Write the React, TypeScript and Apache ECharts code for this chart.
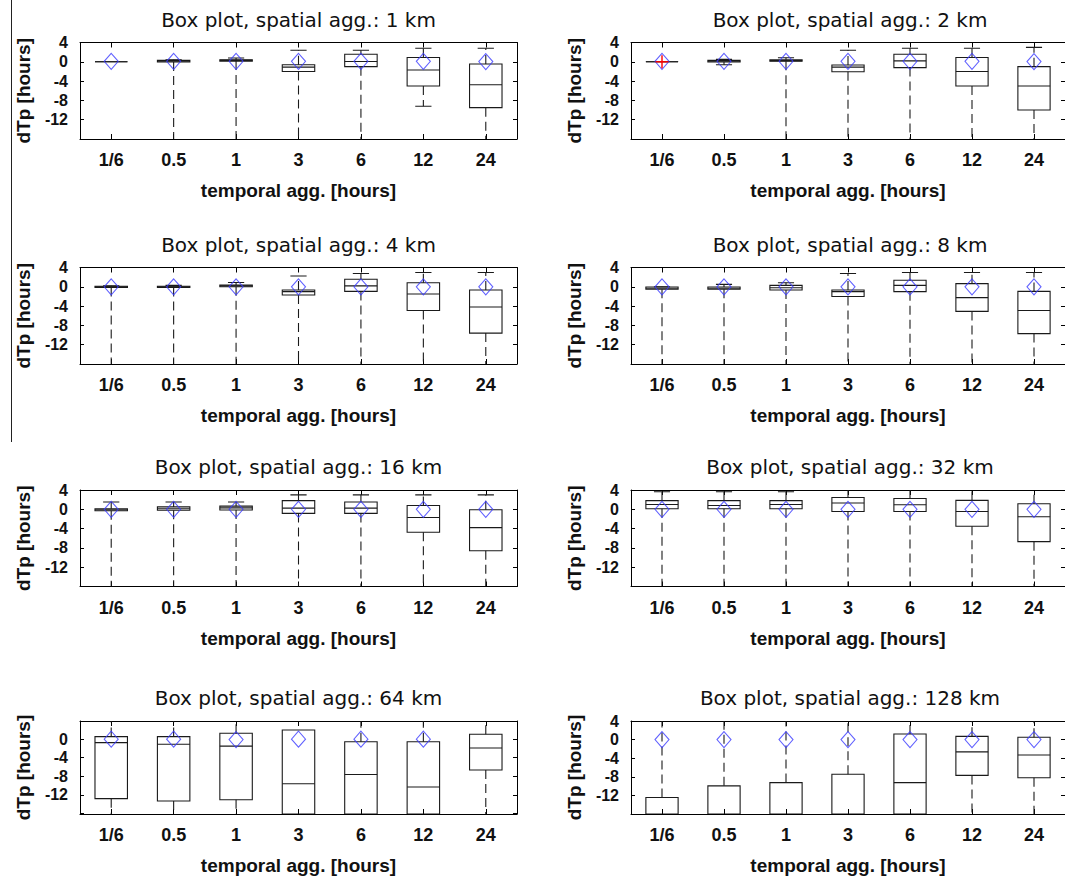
import { useEffect, useRef } from 'react';
import * as echarts from 'echarts';

// ---------- data ----------
const categories = ['1/6', '0.5', '1', '3', '6', '12', '24'];
const spatialAgg = ['1 km', '2 km', '4 km', '8 km', '16 km', '32 km', '64 km', '128 km'];
const titlePrefix = 'Box plot, spatial agg.: ';
const xAxisName = 'temporal agg. [hours]';
const yAxisName = 'dTp [hours]';
const yTickValues = [4, 0, -4, -8, -12, -16];
const yTickLabels = [4, 0, -4, -8, -12];
const yMinByPanel = [-16, -16, -16, -16, -16, -16, -16.1, -16];
const yMaxByPanel = [4, 4, 4, 4, 4, 4, 3.9, 4];

// each box: [whiskerLow, q1, median, q3, whiskerHigh]
const boxes1km = [
  [0, 0, 0, 0, 0],
  [-20, -0.05, 0.1, 0.3, 0.4],
  [-20, 0.15, 0.3, 0.4, 0.8],
  [-20, -2.0, -1.1, -0.6, 2.4],
  [-20, -1.0, 0.05, 1.55, 2.4],
  [-9.2, -5.0, -1.7, 0.9, 2.8],
  [-20, -9.5, -4.75, -0.45, 2.8],
];
const boxes2km = [
  [0, 0, 0, 0, 0],
  [-0.6, -0.05, 0.1, 0.3, 0.5],
  [-20, 0.1, 0.25, 0.4, 0.85],
  [-20, -2.05, -1.1, -0.65, 2.4],
  [-20, -1.2, 0.2, 1.55, 2.8],
  [-20, -5.0, -2.0, 0.9, 2.8],
  [-20, -10.0, -5.0, -1.0, 3.0],
];
const boxes4km = [
  [-20, -0.15, 0, 0.1, 0.2],
  [-20, -0.15, 0, 0.1, 0.3],
  [-20, 0, 0.2, 0.35, 0.9],
  [-20, -1.7, -1.0, -0.65, 2.25],
  [-20, -0.95, 0.2, 1.55, 2.75],
  [-20, -4.9, -1.5, 0.85, 2.95],
  [-20, -9.6, -4.2, -0.65, 2.95],
];
const boxes8km = [
  [-20, -0.5, -0.3, -0.05, 0],
  [-20, -0.5, -0.3, -0.05, 0.5],
  [-20, -0.65, -0.2, 0.3, 0.85],
  [-20, -2.0, -1.0, -0.65, 2.75],
  [-20, -1.0, 0.3, 1.35, 2.95],
  [-20, -5.1, -2.25, 0.65, 2.95],
  [-20, -9.7, -4.9, -0.95, 2.95],
];
const boxes16km = [
  [-20, -0.3, -0.1, 0.1, 1.5],
  [-20, -0.2, 0.1, 0.5, 1.5],
  [-20, -0.15, 0.3, 0.65, 1.5],
  [-20, -0.85, 0.25, 1.8, 3.0],
  [-20, -0.85, 0.25, 1.5, 3.0],
  [-20, -4.75, -1.7, 0.8, 3.0],
  [-20, -8.6, -3.8, -0.1, 3.0],
];
const boxes32km = [
  [-20, 0.1, 1.0, 1.8, 3.65],
  [-20, 0.1, 0.8, 1.8, 3.65],
  [-20, 0.1, 1.0, 1.8, 3.65],
  [-20, -0.45, 1.3, 2.45, 6],
  [-20, -0.45, 0.95, 2.25, 6],
  [-20, -3.5, -0.45, 1.85, 6],
  [-20, -6.7, -1.55, 1.15, 6],
];
const boxes64km = [
  [-20, -12.8, -0.75, 0.55, 6],
  [-20, -13.3, -1.1, 0.55, 6],
  [-20, -13.05, -1.5, 1.25, 6],
  [-20, -18, -9.6, 1.95, 1.95],
  [-20, -18, -7.6, -0.55, 6],
  [-20, -18, -10.3, -0.55, 6],
  [-20, -6.65, -1.9, 1.05, 6],
];
const boxes128km = [
  [-24, -20, -17, -12.45, 6],
  [-24, -20, -17, -9.95, 6],
  [-24, -20, -17, -9.25, 6],
  [-24, -20, -17, -7.45, 6],
  [-24, -20, -9.25, 1.2, 6],
  [-20, -7.7, -2.65, 0.7, 6],
  [-20, -8.2, -3.3, 0.5, 6],
];
const allBoxes = [boxes1km, boxes2km, boxes4km, boxes8km, boxes16km, boxes32km, boxes64km, boxes128km];

const means1km = [0.1, 0.1, 0.1, 0.1, 0.1, 0.1, 0.05];
const means2km = [0.1, 0.1, 0.1, 0.1, 0.1, 0.1, 0.05];
const means4km = [0, 0, 0, 0, 0, 0, 0];
const means8km = [0, 0, 0, 0, 0, 0, 0];
const means16km = [0, 0, 0, 0, 0, 0, 0];
const means32km = [0, 0, 0, 0, 0, 0, 0];
const means64km: (number | null)[] = [0, 0, -0.1, 0, 0, 0, null];
const means128km = [0, 0, 0, 0, 0, 0, 0];
const allMeans: (number | null)[][] = [means1km, means2km, means4km, means8km, means16km, means32km, means64km, means128km];

// outliers: [categoryIndex, value]
const outliers2km = [[0, 0]];
const allOutliers: number[][][] = [[], outliers2km, [], [], [], [], [], []];

// ---------- layout ----------
const colLeft = [80, 631];
const colWidth = [437, 438];
const rowTop = [42.5, 267.5, 490, 721];
const rowHeight = 96.5;

const LINE = '#1a1a1a';
const LABEL_FONT = 'Liberation Sans';

function makeRenderBox(lo: number, hi: number) {
  return (_params: any, api: any) => {
    const idx = api.value(0);
    const wl = api.value(1);
    const q1 = api.value(2);
    const med = api.value(3);
    const q3 = api.value(4);
    const wh = api.value(5);
    const cx = api.coord([idx, 0])[0];
    const band = api.size([1, 0])[0];
    const bw = band * 0.52;
    const cw = band * 0.26;
    const cl = (v: number) => Math.max(lo, Math.min(hi, v));
    const py = (v: number) => api.coord([idx, cl(v)])[1];
    const dash = { stroke: LINE, lineWidth: 1.1, lineDash: [9, 5], fill: null };
    const solid = { stroke: LINE, lineWidth: 1.1, fill: null };
    const ch: any[] = [];
    if (wh > q3 && cl(wh) > cl(q3)) {
      ch.push({ type: 'line', shape: { x1: cx, y1: py(q3), x2: cx, y2: py(wh) }, style: dash });
    }
    if (wl < q1 && cl(wl) < cl(q1)) {
      ch.push({ type: 'line', shape: { x1: cx, y1: py(q1), x2: cx, y2: py(wl) }, style: dash });
    }
    if (wh > q3 && wh <= hi) {
      ch.push({ type: 'line', shape: { x1: cx - cw / 2, y1: py(wh), x2: cx + cw / 2, y2: py(wh) }, style: solid });
    }
    if (wl < q1 && wl >= lo) {
      ch.push({ type: 'line', shape: { x1: cx - cw / 2, y1: py(wl), x2: cx + cw / 2, y2: py(wl) }, style: solid });
    }
    if (q3 >= lo && q1 <= hi) {
      const t = py(q3);
      const b = py(q1);
      ch.push({ type: 'rect', shape: { x: cx - bw / 2, y: t, width: bw, height: b - t }, style: { ...solid, fill: 'none' } });
    }
    if (med >= lo && med <= hi) {
      ch.push({ type: 'line', shape: { x1: cx - bw / 2, y1: py(med), x2: cx + bw / 2, y2: py(med) }, style: solid });
    }
    return { type: 'group', children: ch };
  };
}

function renderOutlier(_params: any, api: any) {
  const p = api.coord([api.value(0), api.value(1)]);
  const s = 6.5;
  const st = { stroke: '#ff0000', lineWidth: 1.4 };
  return {
    type: 'group',
    children: [
      { type: 'line', shape: { x1: p[0] - s, y1: p[1], x2: p[0] + s, y2: p[1] }, style: st },
      { type: 'line', shape: { x1: p[0], y1: p[1] - s, x2: p[0], y2: p[1] + s }, style: st },
    ],
  };
}

function buildOption() {
  const grid: any[] = [];
  const xAxis: any[] = [];
  const yAxis: any[] = [];
  const series: any[] = [];
  const title: any[] = [];

  for (let i = 0; i < 8; i++) {
    const col = i % 2;
    const row = Math.floor(i / 2);
    const left = colLeft[col];
    const width = colWidth[col];
    const top = rowTop[row];
    const lo = yMinByPanel[i];
    const hi = yMaxByPanel[i];
    grid.push({ left, top, width, height: rowHeight, containLabel: false });

    title.push({
      text: titlePrefix + spatialAgg[i],
      left: left + width / 2,
      top: top - 34,
      textAlign: 'center',
      padding: 0,
      textStyle: { fontFamily: 'DejaVu Sans', fontSize: 20, fontWeight: 'normal', color: '#111', lineHeight: 22 },
    });

    const axisLine = { show: true, onZero: false, lineStyle: { color: '#000', width: 1 } };
    xAxis.push({
      type: 'category',
      gridIndex: i,
      data: categories,
      boundaryGap: true,
      position: 'bottom',
      axisLine,
      axisTick: { show: true, inside: true, alignWithLabel: true, length: 5, lineStyle: { color: '#000' } },
      axisLabel: { fontFamily: LABEL_FONT, fontWeight: 'bold', fontSize: 18, color: '#111', margin: 12 },
      name: xAxisName,
      nameLocation: 'middle',
      nameGap: 42,
      nameTextStyle: { fontFamily: LABEL_FONT, fontWeight: 'bold', fontSize: 19, color: '#111' },
      splitLine: { show: false },
    });
    xAxis.push({
      type: 'category',
      gridIndex: i,
      data: categories,
      boundaryGap: true,
      position: 'top',
      axisLine,
      axisTick: { show: true, inside: true, alignWithLabel: true, length: 5, lineStyle: { color: '#000' } },
      axisLabel: { show: false },
      splitLine: { show: false },
    });
    const ticks = yTickValues.filter((v) => v >= lo && v <= hi);
    const labels = yTickLabels.filter((v) => v >= lo && v <= hi);
    yAxis.push({
      type: 'value',
      gridIndex: i,
      min: lo,
      max: hi,
      position: 'left',
      axisLine,
      axisTick: { show: true, inside: true, length: 4, customValues: ticks, lineStyle: { color: '#000' } },
      axisLabel: {
        customValues: labels,
        fontFamily: LABEL_FONT,
        fontWeight: 'bold',
        fontSize: 16,
        color: '#111',
        margin: 12,
      },
      splitLine: { show: false },
      name: yAxisName,
      nameLocation: 'middle',
      nameGap: 47,
      nameTextStyle: { fontFamily: LABEL_FONT, fontWeight: 'bold', fontSize: 19, color: '#111' },
    });
    yAxis.push({
      type: 'value',
      gridIndex: i,
      min: lo,
      max: hi,
      position: 'right',
      axisLine,
      axisTick: { show: true, inside: true, length: 4, customValues: ticks, lineStyle: { color: '#000' } },
      axisLabel: { show: false },
      splitLine: { show: false },
    });

    series.push({
      type: 'custom',
      name: 'box ' + spatialAgg[i],
      xAxisIndex: 2 * i,
      yAxisIndex: 2 * i,
      clip: true,
      renderItem: makeRenderBox(lo, hi),
      encode: { x: 0, y: [1, 2, 3, 4, 5] },
      data: allBoxes[i].map((b, j) => [j, ...b]),
      z: 2,
    });
    series.push({
      type: 'scatter',
      name: 'mean ' + spatialAgg[i],
      xAxisIndex: 2 * i,
      yAxisIndex: 2 * i,
      symbol: 'diamond',
      symbolSize: [14, 16],
      itemStyle: { color: 'rgba(0,0,0,0)', borderColor: '#3a3aff', borderWidth: 1.1 },
      data: allMeans[i]
        .map((m, j) => (m === null ? null : [j, m]))
        .filter((d) => d !== null),
      z: 3,
    });
    if (allOutliers[i].length) {
      series.push({
        type: 'custom',
        name: 'outliers ' + spatialAgg[i],
        xAxisIndex: 2 * i,
        yAxisIndex: 2 * i,
        renderItem: renderOutlier,
        encode: { x: 0, y: 1 },
        data: allOutliers[i],
        z: 4,
      });
    }
  }

  return {
    animation: false,
    backgroundColor: '#ffffff',
    textStyle: { fontFamily: LABEL_FONT },
    title,
    grid,
    xAxis,
    yAxis,
    series,
    graphic: [
      {
        type: 'line',
        shape: { x1: 11.5, y1: 0, x2: 11.5, y2: 442 },
        style: { stroke: '#222', lineWidth: 1 },
      },
    ],
  };
}

export default function App() {
  const ref = useRef<HTMLDivElement>(null);
  useEffect(() => {
    if (!ref.current) return;
    const chart = echarts.init(ref.current, undefined, { renderer: 'svg' });
    chart.setOption(buildOption() as any);
    return () => chart.dispose();
  }, []);
  return (
    <div
      ref={ref}
      style={{ position: 'absolute', left: 0, top: 0, width: 1065, height: 876, background: '#fff' }}
    />
  );
}
